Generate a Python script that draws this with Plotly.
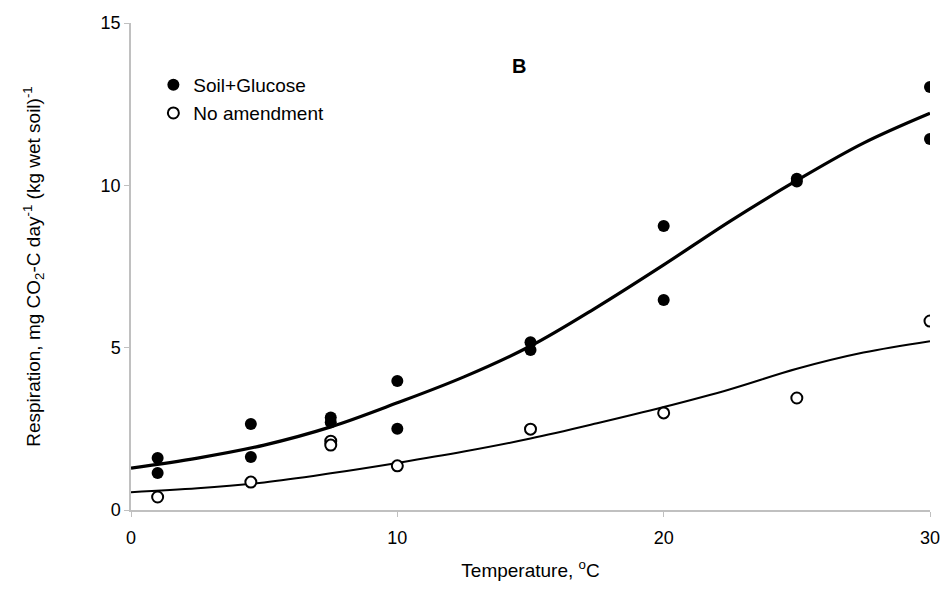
import plotly.graph_objects as go

# Measured points
glucose_x = [1, 1, 4.5, 4.5, 7.5, 7.5, 10, 10, 15, 15, 20, 20, 25, 25, 30, 30]
glucose_y = [1.60, 1.14, 2.65, 1.63, 2.85, 2.70, 3.97, 2.50, 5.17, 4.93, 8.75, 6.47, 10.20, 10.12, 13.03, 11.43]

noamend_x = [1, 4.5, 7.5, 7.5, 10, 15, 20, 25, 30]
noamend_y = [0.40, 0.86, 2.12, 2.00, 1.36, 2.49, 2.99, 3.45, 5.82]

# Fitted curves
curve_x = [0, 2.5, 5, 7.5, 10, 12.5, 15, 17.5, 20, 22.5, 25, 27.5, 30]
curve_glucose = [1.29, 1.60, 2.00, 2.56, 3.30, 4.10, 5.05, 6.25, 7.55, 8.90, 10.15, 11.30, 12.22]
curve_noamend = [0.55, 0.67, 0.85, 1.13, 1.45, 1.80, 2.20, 2.67, 3.17, 3.72, 4.35, 4.85, 5.20]

x_ticks = [0, 10, 20, 30]
y_ticks = [0, 5, 10, 15]

FONT = "Liberation Sans, Arial, sans-serif"

fig = go.Figure()
fig.add_trace(go.Scatter(x=curve_x, y=curve_glucose, mode="lines", line=dict(color="black", width=3.2, shape="spline"),
                         showlegend=False, hoverinfo="skip"))
fig.add_trace(go.Scatter(x=curve_x, y=curve_noamend, mode="lines", line=dict(color="black", width=2, shape="spline"),
                         showlegend=False, hoverinfo="skip"))
fig.add_trace(go.Scatter(x=glucose_x, y=glucose_y, mode="markers", name="Soil+Glucose",
                         marker=dict(symbol="circle", size=12, color="black", line=dict(color="black", width=0)),
                         legend="legend"))
fig.add_trace(go.Scatter(x=noamend_x, y=noamend_y, mode="markers", name="No amendment",
                         marker=dict(symbol="circle", size=11, color="white", line=dict(color="black", width=2)),
                         legend="legend2"))

fig.add_annotation(x=14.57, y=13.67, text="<b>B</b>", showarrow=False, font=dict(family=FONT, size=20, color="black"))

legend_common = dict(font=dict(family=FONT, size=19, color="black"), bgcolor="rgba(0,0,0,0)",
                     xanchor="left", yanchor="middle", itemwidth=30, tracegroupgap=0)

fig.update_layout(
    width=935, height=573,
    margin=dict(l=123, r=13, t=15, b=71),
    paper_bgcolor="white", plot_bgcolor="white",
    font=dict(family=FONT, size=18, color="black"),
    legend=dict(x=0.028, y=0.873, **legend_common),
    legend2=dict(x=0.028, y=0.815, **legend_common),
    xaxis=dict(range=[0, 30], tickvals=x_ticks, showgrid=False, zeroline=False, automargin=False,
               showline=True, linecolor="#c0c0c0", linewidth=1.5,
               ticks="outside", ticklen=5, tickcolor="#c0c0c0", ticklabelstandoff=6,
               tickfont=dict(family=FONT, size=18, color="black"),
               title=dict(text="Temperature, <sup>o</sup>C", font=dict(family=FONT, size=19, color="black"), standoff=22)),
    yaxis=dict(range=[0, 15], tickvals=y_ticks, showgrid=False, zeroline=False, automargin=False,
               showline=True, linecolor="#c0c0c0", linewidth=1.5,
               ticks="outside", ticklen=5, tickcolor="#c0c0c0",
               tickfont=dict(family=FONT, size=18, color="black"),
               title=dict(text="Respiration, mg CO<sub>2</sub>-C day<sup>-1</sup> (kg wet soil)<sup>-1</sup>",
                          font=dict(family=FONT, size=19, color="black"), standoff=55)),
)

fig.write_html("out.html")
